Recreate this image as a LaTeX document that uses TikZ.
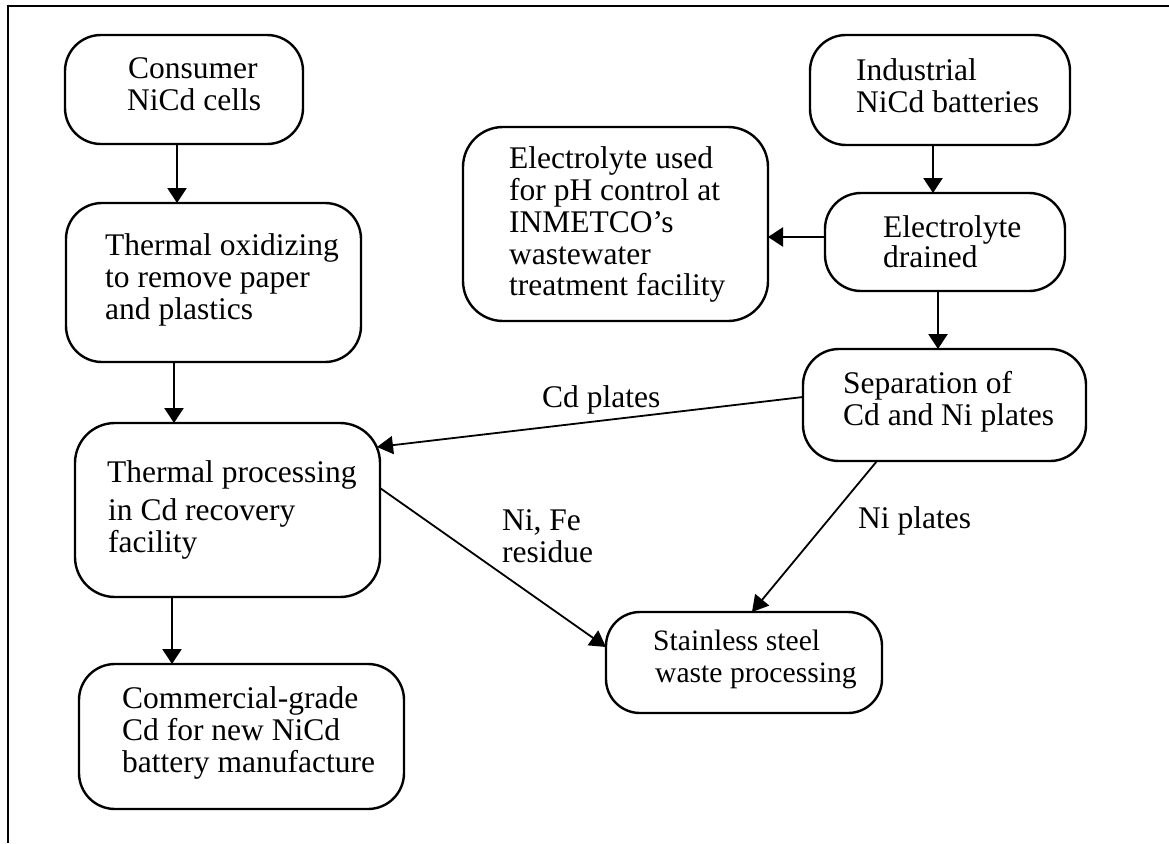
\documentclass[tikz,border=0pt]{standalone}
\usepackage{fontspec}
\setmainfont{Liberation Serif}
\usetikzlibrary{arrows.meta,calc}
\tikzset{
  box/.style={draw, line width=2.4pt, rounded corners=36pt, inner sep=0pt, outer sep=0pt, anchor=north west},
  arr/.style={line width=2.4pt, -{Triangle[length=15pt,width=19pt]}},
  darr/.style={line width=1.8pt, -{Triangle[length=16pt,width=18pt]}},
  txt/.style={anchor=base west, inner sep=0pt, font=\fontsize{31.5}{32}\selectfont},
  stxt/.style={anchor=base west, inner sep=0pt, font=\fontsize{29.6}{32}\selectfont},
}
\begin{document}
\begin{tikzpicture}[x=1pt,y=-1pt]
\useasboundingbox (0,0) rectangle (1169,843);
% frame
\draw[line width=2.2pt] (8,843) -- (8,6) -- (1169,6);

% boxes
\node[box, minimum width=238, minimum height=109] (cons) at (65,35) {};
\node[box, minimum width=295, minimum height=159] (tox) at (66,203) {};
\node[box, minimum width=305, minimum height=174, rounded corners=40pt] (tp) at (75,423) {};
\node[box, minimum width=325, minimum height=145] (comm) at (79,664) {};
\node[box, minimum width=260, minimum height=110] (ind) at (810,35) {};
\node[box, minimum width=305, minimum height=194, rounded corners=40pt] (elu) at (463,127) {};
\node[box, minimum width=240, minimum height=98] (eld) at (825,193) {};
\node[box, minimum width=283, minimum height=112] (sep) at (803,349) {};
\node[box, minimum width=276, minimum height=101, rounded corners=34pt] (ss) at (606,612) {};

% texts
\node[txt] (cons1) at (128,78) {Consumer};
\node[txt] (cons2) at (127,110) {NiCd cells};

\node[txt] (tox1) at (105,255) {Thermal oxidizing};
\node[txt] (tox2) at (105,287) {to remove paper};
\node[txt] (tox3) at (105,319) {and plastics};

\node[txt] (tp1) at (107,482) {Thermal processing};
\node[txt] (tp2) at (108,520) {in Cd recovery};
\node[txt] (tp3) at (108,552) {facility};

\node[txt] (comm1) at (122,708) {Commercial-grade};
\node[txt] (comm2) at (122,740) {Cd for new NiCd};
\node[txt] (comm3) at (122,772) {battery manufacture};

\node[txt] (ind1) at (856,81) {Industrial};
\node[txt] (ind2) at (856,112) {NiCd batteries};

\node[txt] (elu1) at (509,168) {Electrolyte used};
\node[txt] (elu2) at (509,200) {for pH control at};
\node[txt] (elu3) at (509,232) {INMETCO’s};
\node[txt] (elu4) at (509,264) {wastewater};
\node[txt] (elu5) at (509,295) {treatment facility};

\node[txt] (eld1) at (883,237) {Electrolyte};
\node[txt] (eld2) at (883,267) {drained};

\node[txt] (sep1) at (843,393) {Separation of};
\node[txt] (sep2) at (843,425) {Cd and Ni plates};

\node[stxt] (ss1) at (653,650) {Stainless steel};
\node[stxt] (ss2) at (655,682) {waste processing};

% connector labels
\node[txt] (lcd) at (542,407) {Cd plates};
\node[txt] (lnife1) at (502,530) {Ni, Fe};
\node[txt] (lnife2) at (502,562) {residue};
\node[txt] (lni) at (858,528) {Ni plates};

% connectors
\draw[arr] ([xshift=-7pt]cons.south) -- ([xshift=-7pt]cons.south |- tox.north);
\draw[arr] ([xshift=-39.5pt]tox.south) -- ([xshift=-39.5pt]tox.south |- tp.north);
\draw[arr] ([xshift=-55.5pt]tp.south) -- ([xshift=-55.5pt]tp.south |- comm.north);
\draw[arr] ([xshift=-7pt]ind.south) -- ([xshift=-7pt]ind.south |- eld.north);
\draw[arr] ([yshift=5pt]eld.west) -- ([yshift=5pt]eld.west -| elu.east);
\draw[arr] ([xshift=-7pt]eld.south) -- ([xshift=-7pt]eld.south |- sep.north);
\draw[darr] ([yshift=8pt]sep.west) -- ([shift={(-3,24)}]tp.north east);
\draw[darr] ([yshift=22pt]tp.east) -- ([yshift=15.5pt]ss.west);
\draw[darr] ([xshift=-67.5pt]sep.south) -- ([xshift=8pt]ss.north);
\end{tikzpicture}
\end{document}
